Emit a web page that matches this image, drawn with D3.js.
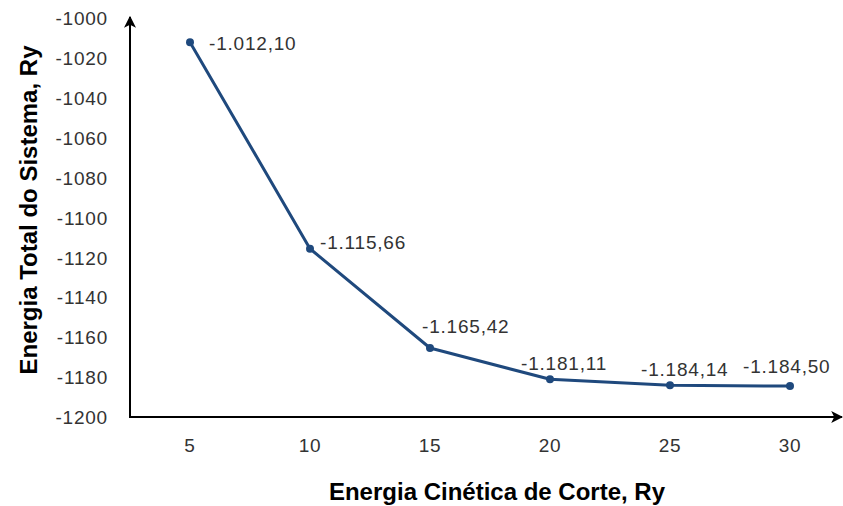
<!DOCTYPE html>
<html>
<head>
<meta charset="utf-8">
<script src="https://cdn.jsdelivr.net/npm/d3@7"></script>
<style>
  body { margin: 0; background: #fff; }
  svg text { font-family: "Liberation Sans", Arial, sans-serif; }
  .tick-label { font-size: 19px; fill: #333; letter-spacing: 0.8px; }
  .data-label { font-size: 19px; fill: #333; letter-spacing: 0.8px; }
  .axis-title { font-size: 24px; font-weight: bold; fill: #000; }
</style>
</head>
<body>
<div id="chart"></div>
<script>
// data
const cutoffs = ["5", "10", "15", "20", "25", "30"];
const energies = [-1012.10, -1115.66, -1165.42, -1181.11, -1184.14, -1184.50];
const yTicks = [-1200, -1180, -1160, -1140, -1120, -1100, -1080, -1060, -1040, -1020, -1000];
const xTitle = "Energia Cinética de Corte, Ry";
const yTitle = "Energia Total do Sistema, Ry";

// where each value label sits relative to its point
const labelPlace = ["rightMid", "right", "above", "aboveLeft", "aboveLeft", "aboveFar"];
const placeOffset = {
  rightMid: [19, 8],
  right: [10, 0],
  above: [-8, -15],
  aboveLeft: [-29, -9],
  aboveFar: [-47, -13]
};

const width = 843, height = 506;
const x0 = 130, xEnd = 842, yBase = 417, yTop = 18;

// Brazilian number format: 1.012,10 with a plain hyphen minus
const br = d3.formatLocale({ decimal: ",", thousands: ".", grouping: [3], currency: ["R$", ""], minus: "-" });
const fmtLabel = br.format(",.2f");
const fmtTick = br.format("d");

const svg = d3.select("#chart")
  .append("svg")
    .attr("width", width)
    .attr("height", height);

// arrow heads for the axes
svg.append("defs").append("marker")
    .attr("id", "arrow")
    .attr("viewBox", "0 0 10 10")
    .attr("refX", 9)
    .attr("refY", 5)
    .attr("markerUnits", "userSpaceOnUse")
    .attr("markerWidth", 12)
    .attr("markerHeight", 13)
    .attr("orient", "auto")
  .append("path")
    .attr("d", "M0,0 L10,5 L0,10 L2.5,5 z")
    .attr("fill", "#000");

const xScale = d3.scaleBand()
    .domain(cutoffs)
    .range([x0, 850]);

const yScale = d3.scaleLinear()
    .domain([-1200, -1000])
    .range([yBase, yTop]);

// Y axis labels (no tick marks, no domain)
const yAxis = svg.append("g")
    .attr("transform", "translate(" + (x0 - 22) + ",0)")
    .call(d3.axisLeft(yScale).tickValues(yTicks).tickFormat(fmtTick).tickSize(0).tickPadding(0));
yAxis.select(".domain").remove();
yAxis.selectAll("text")
    .attr("class", "tick-label")
    .attr("font-size", null)
    .attr("font-family", null)
    .attr("dy", "0.35em");

// X axis labels
const xAxis = svg.append("g")
    .attr("transform", "translate(0," + yBase + ")")
    .call(d3.axisBottom(xScale).tickSize(0).tickPadding(0));
xAxis.select(".domain").remove();
xAxis.selectAll("text")
    .attr("class", "tick-label")
    .attr("font-size", null)
    .attr("font-family", null)
    .attr("y", 35)
    .attr("dy", 0);

// axis lines with arrows
svg.append("line")
    .attr("x1", x0).attr("y1", yBase)
    .attr("x2", x0).attr("y2", yTop - 1)
    .attr("stroke", "#000")
    .attr("stroke-width", 2)
    .attr("marker-end", "url(#arrow)");

svg.append("line")
    .attr("x1", x0 - 1).attr("y1", yBase)
    .attr("x2", xEnd).attr("y2", yBase)
    .attr("stroke", "#000")
    .attr("stroke-width", 2)
    .attr("marker-end", "url(#arrow)");

const points = cutoffs.map((c, i) => ({ cutoff: c, energy: energies[i], place: labelPlace[i] }));
const cx = d => xScale(d.cutoff) + xScale.bandwidth() / 2;
const cy = d => yScale(d.energy);

const line = d3.line().x(cx).y(cy);

svg.append("path")
    .datum(points)
    .attr("d", line)
    .attr("fill", "none")
    .attr("stroke", "#1F497D")
    .attr("stroke-width", 3)
    .attr("stroke-linejoin", "round");

svg.selectAll(".pt")
  .data(points)
  .enter()
  .append("circle")
    .attr("class", "pt")
    .attr("cx", cx)
    .attr("cy", cy)
    .attr("r", 4)
    .attr("fill", "#1F497D");

// value labels
svg.selectAll(".data-label")
  .data(points)
  .enter()
  .append("text")
    .attr("class", "data-label")
    .attr("x", d => cx(d) + placeOffset[d.place][0])
    .attr("y", d => cy(d) + placeOffset[d.place][1])
    .text(d => fmtLabel(d.energy));

// axis titles
svg.append("text")
    .attr("class", "axis-title")
    .attr("x", 497)
    .attr("y", 500)
    .attr("text-anchor", "middle")
    .text(xTitle);

svg.append("text")
    .attr("class", "axis-title")
    .attr("transform", "translate(37," + 210 + ") rotate(-90)")
    .attr("text-anchor", "middle")
    .text(yTitle);
</script>
</body>
</html>
